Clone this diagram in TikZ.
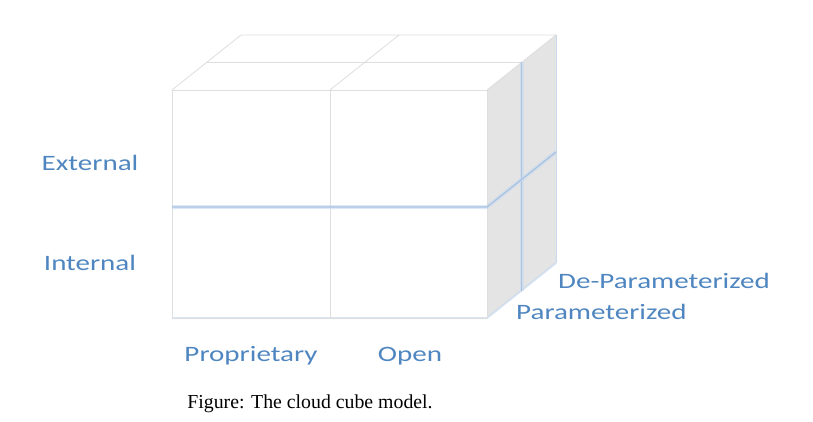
\documentclass[tikz,border=0pt]{standalone}
\usepackage{fontspec}
\setmainfont{Liberation Serif}
\newfontfamily\labelfont[FakeStretch=1.32]{Carlito}
\usetikzlibrary{positioning}

\definecolor{axisblue}{HTML}{4F86C0}
\definecolor{edgegray}{HTML}{DEDEDE}
\definecolor{sidegray}{HTML}{E4E4E4}
\definecolor{glowblue}{HTML}{C9DAEE}
\definecolor{lineblue}{HTML}{A7C2E2}

\begin{document}
\begin{tikzpicture}[x=1pt, y=-1pt,
axislabel/.style={text=axisblue, font=\labelfont\fontsize{22}{24}\selectfont, inner sep=0pt},
captiontext/.style={text=black, font=\fontsize{19.8}{22}\selectfont, inner sep=0pt},
cubeedge/.style={draw=edgegray, line width=0.8pt},
splitline/.style={draw=lineblue, line width=1.2pt},
splitglow/.style={draw=glowblue, line width=4pt, opacity=0.6},
]
\useasboundingbox (0,0) rectangle (813,422);

% Corners of the cube
\coordinate (flt) at (172,90);
\coordinate (frt) at (487,90);
\coordinate (flb) at (172,318);
\coordinate (frb) at (487,318);
\coordinate (blt) at (241,35);
\coordinate (brt) at (556,35);
\coordinate (brb) at (556,263);

% Faces
\fill[white] (flt) -- (blt) -- (brt) -- (frt) -- cycle;
\fill[sidegray] (frt) -- (brt) -- (brb) -- (frb) -- cycle;
\draw[glowblue, line width=2pt, opacity=0.7] (flb) -- (frb) -- (brb);
\draw[cubeedge] (flt) rectangle (frb);
\draw[cubeedge] (flt) -- (blt) -- (brt) -- (frt);
\draw[draw=lineblue!60, line width=1pt] (brt) -- (brb);

% Splits
\draw[cubeedge] (330,90) -- (399,35);
\draw[cubeedge] (206.5,62.5) -- (521.5,62.5);
\draw[cubeedge] (330,90) -- (330,318);
\draw[splitglow] (521.5,62.5) -- (521.5,290.5);
\draw[splitline] (521.5,62.5) -- (521.5,290.5);
\draw[splitglow] (172,207) -- (487,207) -- (556,152);
\draw[splitline] (172,207) -- (487,207) -- (556,152);

% Nodes
\node[axislabel] (external) at (90,163) {External};
\node[axislabel] (internal) at (90,263) {Internal};
\node[axislabel] (proprietary) at (251,356) {Proprietary};
\node[axislabel] (open) at (410,356) {Open};
\node[axislabel, anchor=west] (deparam) at (558,281) {De-Parameterized};
\node[axislabel, anchor=west] (param) at (516,312) {Parameterized};
\node[captiontext] (caption) at (310,404) {Figure: The cloud cube model.};

\end{tikzpicture}
\end{document}
